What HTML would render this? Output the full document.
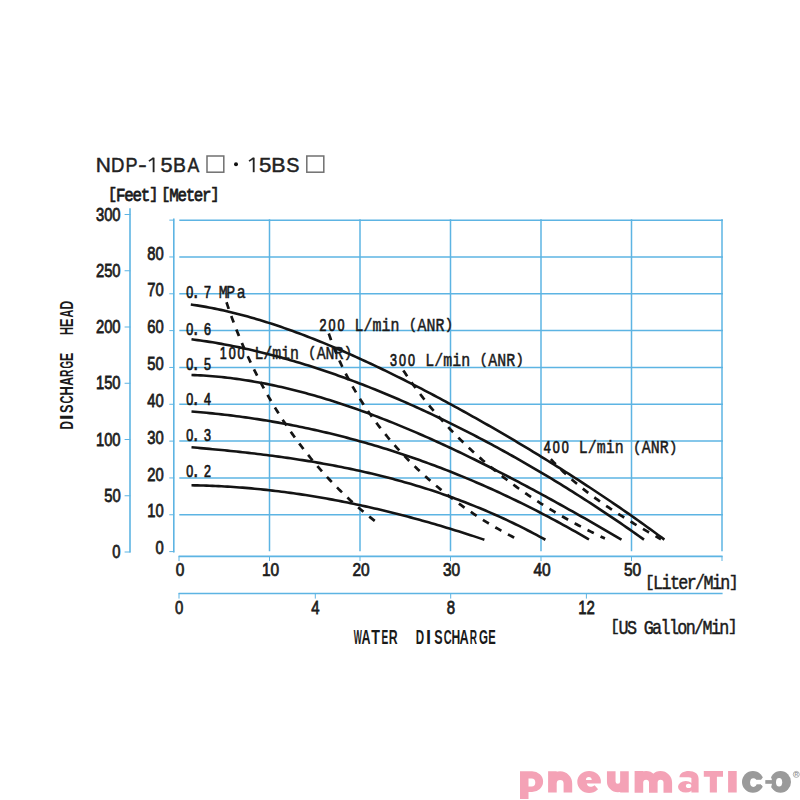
<!DOCTYPE html>
<html><head><meta charset="utf-8"><title>NDP-15BA chart</title>
<style>
html,body{margin:0;padding:0;background:#fff;}
svg{display:block;}
.g{stroke:#5db4e3;stroke-width:1.5;fill:none;}
.a{stroke:#5db4e3;stroke-width:1.6;fill:none;}
.tk{stroke:#5db4e3;stroke-width:1.0;fill:none;}
.c{stroke:#141414;stroke-width:2.6;fill:none;stroke-linejoin:round;}
.d{stroke:#141414;stroke-width:2.7;fill:none;stroke-dasharray:7 7.5;}
.s{font-family:"Liberation Sans",sans-serif;fill:#1c1c1c;font-weight:bold;}
.sm{font-family:"Liberation Sans",sans-serif;fill:#1c1c1c;stroke:#1c1c1c;stroke-width:0.75;}
.m{font-family:"Liberation Mono",monospace;fill:#1a1a1a;}
.mb{font-family:"Liberation Mono",monospace;fill:#1a1a1a;font-weight:bold;}
.mm{font-family:"Liberation Mono",monospace;fill:#1a1a1a;stroke:#1a1a1a;stroke-width:0.5;}
.mf{font-family:"Liberation Mono",monospace;fill:#1a1a1a;stroke:#1a1a1a;stroke-width:0.75;}
.dg{font-family:"Liberation Sans",sans-serif;fill:#161616;stroke:#161616;stroke-width:0.75;}
.t{font-family:"Liberation Sans",sans-serif;fill:#1a1a1a;font-weight:bold;}
.ti{font-family:"Liberation Sans",sans-serif;fill:#222;stroke:#222;stroke-width:0.45;}
.bx{fill:none;stroke:#707070;stroke-width:1.5;}
</style></head>
<body>
<svg width="800" height="800" viewBox="0 0 800 800">
<line x1="179.3" y1="514.77" x2="722.90" y2="514.77" class="g"/>
<line x1="179.3" y1="477.94" x2="722.90" y2="477.94" class="g"/>
<line x1="179.3" y1="441.11" x2="722.90" y2="441.11" class="g"/>
<line x1="179.3" y1="404.28" x2="722.90" y2="404.28" class="g"/>
<line x1="179.3" y1="367.45" x2="722.90" y2="367.45" class="g"/>
<line x1="179.3" y1="330.62" x2="722.90" y2="330.62" class="g"/>
<line x1="179.3" y1="293.79" x2="722.90" y2="293.79" class="g"/>
<line x1="179.3" y1="256.96" x2="722.90" y2="256.96" class="g"/>
<line x1="179.3" y1="220.13" x2="722.90" y2="220.13" class="g"/>
<line x1="269.50" y1="219.23" x2="269.50" y2="551.30" class="g"/>
<line x1="360.00" y1="219.23" x2="360.00" y2="551.30" class="g"/>
<line x1="450.50" y1="219.23" x2="450.50" y2="551.30" class="g"/>
<line x1="541.00" y1="219.23" x2="541.00" y2="551.30" class="g"/>
<line x1="631.50" y1="219.23" x2="631.50" y2="551.30" class="g"/>
<line x1="722.00" y1="219.23" x2="722.00" y2="551.30" class="g"/>
<line x1="130" y1="208.3" x2="130" y2="552.6" class="a"/>
<line x1="124.6" y1="552.00" x2="130.4" y2="552.00" class="tk"/>
<line x1="124.6" y1="495.75" x2="130.4" y2="495.75" class="tk"/>
<line x1="124.6" y1="439.50" x2="130.4" y2="439.50" class="tk"/>
<line x1="124.6" y1="383.25" x2="130.4" y2="383.25" class="tk"/>
<line x1="124.6" y1="327.00" x2="130.4" y2="327.00" class="tk"/>
<line x1="124.6" y1="270.75" x2="130.4" y2="270.75" class="tk"/>
<line x1="124.6" y1="214.50" x2="130.4" y2="214.50" class="tk"/>
<line x1="173.8" y1="218.6" x2="173.8" y2="552.4" class="a"/>
<line x1="169.3" y1="551.60" x2="174.2" y2="551.60" class="tk"/>
<line x1="169.3" y1="514.77" x2="174.2" y2="514.77" class="tk"/>
<line x1="169.3" y1="477.94" x2="174.2" y2="477.94" class="tk"/>
<line x1="169.3" y1="441.11" x2="174.2" y2="441.11" class="tk"/>
<line x1="169.3" y1="404.28" x2="174.2" y2="404.28" class="tk"/>
<line x1="169.3" y1="367.45" x2="174.2" y2="367.45" class="tk"/>
<line x1="169.3" y1="330.62" x2="174.2" y2="330.62" class="tk"/>
<line x1="169.3" y1="293.79" x2="174.2" y2="293.79" class="tk"/>
<line x1="169.3" y1="256.96" x2="174.2" y2="256.96" class="tk"/>
<line x1="169.3" y1="220.13" x2="174.2" y2="220.13" class="tk"/>
<line x1="178.6" y1="556.4" x2="722.6" y2="556.4" class="a"/>
<line x1="179.00" y1="556" x2="179.00" y2="561.0" class="tk"/>
<line x1="269.50" y1="556" x2="269.50" y2="561.0" class="tk"/>
<line x1="360.00" y1="556" x2="360.00" y2="561.0" class="tk"/>
<line x1="450.50" y1="556" x2="450.50" y2="561.0" class="tk"/>
<line x1="541.00" y1="556" x2="541.00" y2="561.0" class="tk"/>
<line x1="631.50" y1="556" x2="631.50" y2="561.0" class="tk"/>
<line x1="722.00" y1="556" x2="722.00" y2="561.0" class="tk"/>
<line x1="178.6" y1="593.5" x2="722.6" y2="593.5" class="a"/>
<line x1="179.00" y1="593" x2="179.00" y2="598.6" class="tk"/>
<line x1="315.30" y1="593" x2="315.30" y2="598.6" class="tk"/>
<line x1="450.70" y1="593" x2="450.70" y2="598.6" class="tk"/>
<line x1="586.40" y1="593" x2="586.40" y2="598.6" class="tk"/>
<path d="M190.80 304.49L193.80 304.92L196.80 305.38L199.80 305.86L202.80 306.36L205.80 306.89L208.80 307.44L211.80 308.02L214.80 308.61L217.80 309.23L220.80 309.87L223.80 310.53L226.80 311.22L229.80 311.92L232.80 312.65L235.80 313.40L238.80 314.16L241.80 314.95L244.80 315.75L247.80 316.58L250.80 317.42L253.80 318.29L256.80 319.17L259.80 320.07L262.80 320.98L265.80 321.92L268.80 322.87L271.80 323.84L274.80 324.82L277.80 325.82L280.80 326.84L283.80 327.88L286.80 328.92L289.80 329.99L292.80 331.07L295.80 332.16L298.80 333.27L301.80 334.40L304.80 335.54L307.80 336.69L310.80 337.85L313.80 339.03L316.80 340.23L319.80 341.43L322.80 342.65L325.80 343.88L328.80 345.13L331.80 346.38L334.80 347.65L337.80 348.93L340.80 350.23L343.80 351.53L346.80 352.85L349.80 354.17L352.80 355.51L355.80 356.86L358.80 358.22L361.80 359.59L364.80 360.97L367.80 362.36L370.80 363.76L373.80 365.17L376.80 366.59L379.80 368.02L382.80 369.46L385.80 370.90L388.80 372.36L391.80 373.83L394.80 375.30L397.80 376.79L400.80 378.28L403.80 379.78L406.80 381.29L409.80 382.81L412.80 384.34L415.80 385.88L418.80 387.42L421.80 388.97L424.80 390.53L427.80 392.10L430.80 393.67L433.80 395.26L436.80 396.85L439.80 398.45L442.80 400.05L445.80 401.66L448.80 403.29L451.80 404.91L454.80 406.55L457.80 408.19L460.80 409.84L463.80 411.50L466.80 413.16L469.80 414.83L472.80 416.51L475.80 418.19L478.80 419.89L481.80 421.58L484.80 423.29L487.80 425.00L490.80 426.72L493.80 428.45L496.80 430.18L499.80 431.92L502.80 433.67L505.80 435.42L508.80 437.19L511.80 438.95L514.80 440.73L517.80 442.51L520.80 444.30L523.80 446.10L526.80 447.90L529.80 449.71L532.80 451.53L535.80 453.35L538.80 455.19L541.80 457.03L544.80 458.87L547.80 460.73L550.80 462.59L553.80 464.46L556.80 466.34L559.80 468.22L562.80 470.11L565.80 472.01L568.80 473.92L571.80 475.84L574.80 477.76L577.80 479.70L580.80 481.64L583.80 483.59L586.80 485.55L589.80 487.51L592.80 489.49L595.80 491.47L598.80 493.47L601.80 495.47L604.80 497.48L607.80 499.50L610.80 501.53L613.80 503.57L616.80 505.62L619.80 507.68L622.80 509.75L625.80 511.84L628.80 513.93L631.80 516.03L634.80 518.14L637.80 520.26L640.80 522.40L643.80 524.54L646.80 526.70L649.80 528.87L652.80 531.05L655.80 533.24L658.80 535.45L661.80 537.66L664.40 539.59" class="c"/>
<path d="M191.50 339.30L194.50 339.68L197.50 340.09L200.50 340.50L203.50 340.94L206.50 341.39L209.50 341.86L212.50 342.34L215.50 342.84L218.50 343.36L221.50 343.89L224.50 344.43L227.50 344.99L230.50 345.57L233.50 346.16L236.50 346.77L239.50 347.39L242.50 348.03L245.50 348.68L248.50 349.35L251.50 350.03L254.50 350.72L257.50 351.43L260.50 352.15L263.50 352.89L266.50 353.64L269.50 354.41L272.50 355.19L275.50 355.98L278.50 356.79L281.50 357.61L284.50 358.44L287.50 359.29L290.50 360.15L293.50 361.02L296.50 361.91L299.50 362.81L302.50 363.72L305.50 364.65L308.50 365.58L311.50 366.54L314.50 367.50L317.50 368.47L320.50 369.46L323.50 370.46L326.50 371.48L329.50 372.50L332.50 373.54L335.50 374.59L338.50 375.65L341.50 376.72L344.50 377.81L347.50 378.91L350.50 380.02L353.50 381.14L356.50 382.27L359.50 383.41L362.50 384.57L365.50 385.73L368.50 386.91L371.50 388.10L374.50 389.30L377.50 390.51L380.50 391.74L383.50 392.97L386.50 394.22L389.50 395.47L392.50 396.74L395.50 398.02L398.50 399.31L401.50 400.61L404.50 401.92L407.50 403.24L410.50 404.57L413.50 405.91L416.50 407.26L419.50 408.63L422.50 410.00L425.50 411.39L428.50 412.78L431.50 414.19L434.50 415.60L437.50 417.03L440.50 418.47L443.50 419.91L446.50 421.37L449.50 422.84L452.50 424.32L455.50 425.81L458.50 427.30L461.50 428.81L464.50 430.33L467.50 431.86L470.50 433.40L473.50 434.95L476.50 436.51L479.50 438.07L482.50 439.65L485.50 441.24L488.50 442.84L491.50 444.45L494.50 446.07L497.50 447.70L500.50 449.34L503.50 450.99L506.50 452.65L509.50 454.32L512.50 455.99L515.50 457.68L518.50 459.38L521.50 461.09L524.50 462.81L527.50 464.54L530.50 466.28L533.50 468.03L536.50 469.79L539.50 471.56L542.50 473.34L545.50 475.13L548.50 476.92L551.50 478.73L554.50 480.55L557.50 482.38L560.50 484.22L563.50 486.07L566.50 487.93L569.50 489.80L572.50 491.68L575.50 493.57L578.50 495.48L581.50 497.39L584.50 499.31L587.50 501.24L590.50 503.18L593.50 505.14L596.50 507.10L599.50 509.07L602.50 511.06L605.50 513.05L608.50 515.06L611.50 517.07L614.50 519.10L617.50 521.14L620.50 523.19L623.50 525.24L626.50 527.31L629.50 529.39L632.50 531.49L635.50 533.59L638.50 535.70L641.50 537.83L644.00 539.61" class="c"/>
<path d="M191.50 375.00L194.50 375.10L197.50 375.24L200.50 375.39L203.50 375.56L206.50 375.76L209.50 375.98L212.50 376.22L215.50 376.48L218.50 376.75L221.50 377.06L224.50 377.38L227.50 377.72L230.50 378.08L233.50 378.46L236.50 378.86L239.50 379.28L242.50 379.72L245.50 380.17L248.50 380.65L251.50 381.15L254.50 381.66L257.50 382.19L260.50 382.74L263.50 383.31L266.50 383.90L269.50 384.51L272.50 385.13L275.50 385.77L278.50 386.42L281.50 387.10L284.50 387.79L287.50 388.50L290.50 389.22L293.50 389.96L296.50 390.72L299.50 391.49L302.50 392.28L305.50 393.09L308.50 393.91L311.50 394.75L314.50 395.60L317.50 396.47L320.50 397.35L323.50 398.24L326.50 399.16L329.50 400.08L332.50 401.02L335.50 401.98L338.50 402.95L341.50 403.93L344.50 404.93L347.50 405.94L350.50 406.97L353.50 408.01L356.50 409.06L359.50 410.12L362.50 411.20L365.50 412.29L368.50 413.39L371.50 414.51L374.50 415.64L377.50 416.78L380.50 417.93L383.50 419.10L386.50 420.28L389.50 421.46L392.50 422.66L395.50 423.88L398.50 425.10L401.50 426.34L404.50 427.58L407.50 428.84L410.50 430.11L413.50 431.38L416.50 432.67L419.50 433.97L422.50 435.28L425.50 436.60L428.50 437.93L431.50 439.28L434.50 440.63L437.50 441.99L440.50 443.36L443.50 444.73L446.50 446.12L449.50 447.52L452.50 448.93L455.50 450.34L458.50 451.77L461.50 453.20L464.50 454.65L467.50 456.10L470.50 457.56L473.50 459.02L476.50 460.50L479.50 461.98L482.50 463.48L485.50 464.98L488.50 466.48L491.50 468.00L494.50 469.52L497.50 471.05L500.50 472.59L503.50 474.14L506.50 475.69L509.50 477.25L512.50 478.82L515.50 480.39L518.50 481.97L521.50 483.56L524.50 485.15L527.50 486.75L530.50 488.35L533.50 489.97L536.50 491.58L539.50 493.21L542.50 494.84L545.50 496.48L548.50 498.12L551.50 499.76L554.50 501.42L557.50 503.08L560.50 504.74L563.50 506.41L566.50 508.08L569.50 509.76L572.50 511.45L575.50 513.14L578.50 514.83L581.50 516.53L584.50 518.24L587.50 519.94L590.50 521.66L593.50 523.38L596.50 525.10L599.50 526.82L602.50 528.55L605.50 530.29L608.50 532.03L611.50 533.77L614.50 535.52L617.50 537.27L620.50 539.02L621.50 539.61" class="c"/>
<path d="M191.50 411.50L194.50 411.74L197.50 411.99L200.50 412.25L203.50 412.52L206.50 412.80L209.50 413.09L212.50 413.39L215.50 413.70L218.50 414.02L221.50 414.36L224.50 414.70L227.50 415.05L230.50 415.41L233.50 415.79L236.50 416.17L239.50 416.56L242.50 416.97L245.50 417.38L248.50 417.81L251.50 418.25L254.50 418.69L257.50 419.15L260.50 419.62L263.50 420.10L266.50 420.59L269.50 421.09L272.50 421.60L275.50 422.12L278.50 422.65L281.50 423.19L284.50 423.74L287.50 424.31L290.50 424.88L293.50 425.47L296.50 426.07L299.50 426.67L302.50 427.29L305.50 427.92L308.50 428.56L311.50 429.21L314.50 429.87L317.50 430.55L320.50 431.23L323.50 431.92L326.50 432.63L329.50 433.35L332.50 434.08L335.50 434.82L338.50 435.57L341.50 436.33L344.50 437.10L347.50 437.88L350.50 438.68L353.50 439.48L356.50 440.30L359.50 441.13L362.50 441.97L365.50 442.82L368.50 443.68L371.50 444.56L374.50 445.44L377.50 446.34L380.50 447.25L383.50 448.17L386.50 449.10L389.50 450.04L392.50 451.00L395.50 451.96L398.50 452.94L401.50 453.93L404.50 454.93L407.50 455.94L410.50 456.96L413.50 458.00L416.50 459.04L419.50 460.10L422.50 461.17L425.50 462.25L428.50 463.35L431.50 464.45L434.50 465.57L437.50 466.70L440.50 467.84L443.50 468.99L446.50 470.15L449.50 471.33L452.50 472.52L455.50 473.72L458.50 474.93L461.50 476.15L464.50 477.39L467.50 478.64L470.50 479.90L473.50 481.17L476.50 482.45L479.50 483.75L482.50 485.06L485.50 486.38L488.50 487.71L491.50 489.05L494.50 490.41L497.50 491.78L500.50 493.16L503.50 494.56L506.50 495.96L509.50 497.38L512.50 498.81L515.50 500.25L518.50 501.71L521.50 503.17L524.50 504.65L527.50 506.15L530.50 507.65L533.50 509.17L536.50 510.70L539.50 512.24L542.50 513.79L545.50 515.36L548.50 516.94L551.50 518.53L554.50 520.14L557.50 521.75L560.50 523.38L563.50 525.03L566.50 526.68L569.50 528.35L572.50 530.03L575.50 531.72L578.50 533.43L581.50 535.15L584.50 536.88L587.50 538.63L589.00 539.50" class="c"/>
<path d="M191.50 447.30L194.50 447.55L197.50 447.82L200.50 448.08L203.50 448.35L206.50 448.62L209.50 448.89L212.50 449.17L215.50 449.46L218.50 449.75L221.50 450.04L224.50 450.33L227.50 450.64L230.50 450.94L233.50 451.25L236.50 451.57L239.50 451.89L242.50 452.22L245.50 452.55L248.50 452.89L251.50 453.23L254.50 453.58L257.50 453.94L260.50 454.30L263.50 454.67L266.50 455.05L269.50 455.43L272.50 455.82L275.50 456.22L278.50 456.62L281.50 457.04L284.50 457.45L287.50 457.88L290.50 458.32L293.50 458.76L296.50 459.21L299.50 459.67L302.50 460.14L305.50 460.61L308.50 461.10L311.50 461.59L314.50 462.09L317.50 462.61L320.50 463.13L323.50 463.66L326.50 464.20L329.50 464.75L332.50 465.31L335.50 465.88L338.50 466.46L341.50 467.05L344.50 467.65L347.50 468.27L350.50 468.89L353.50 469.52L356.50 470.17L359.50 470.83L362.50 471.49L365.50 472.17L368.50 472.86L371.50 473.57L374.50 474.28L377.50 475.01L380.50 475.75L383.50 476.50L386.50 477.27L389.50 478.04L392.50 478.83L395.50 479.64L398.50 480.46L401.50 481.29L404.50 482.13L407.50 482.99L410.50 483.86L413.50 484.74L416.50 485.64L419.50 486.56L422.50 487.48L425.50 488.43L428.50 489.38L431.50 490.36L434.50 491.34L437.50 492.35L440.50 493.36L443.50 494.40L446.50 495.45L449.50 496.51L452.50 497.59L455.50 498.69L458.50 499.80L461.50 500.93L464.50 502.08L467.50 503.24L470.50 504.42L473.50 505.61L476.50 506.83L479.50 508.06L482.50 509.31L485.50 510.57L488.50 511.85L491.50 513.16L494.50 514.48L497.50 515.81L500.50 517.17L503.50 518.54L506.50 519.94L509.50 521.35L512.50 522.78L515.50 524.23L518.50 525.70L521.50 527.18L524.50 528.69L527.50 530.22L530.50 531.77L533.50 533.33L536.50 534.92L539.50 536.53L542.50 538.15L545.40 539.75" class="c"/>
<path d="M191.50 485.30L194.50 485.34L197.50 485.40L200.50 485.47L203.50 485.55L206.50 485.64L209.50 485.75L212.50 485.86L215.50 485.99L218.50 486.13L221.50 486.28L224.50 486.45L227.50 486.62L230.50 486.81L233.50 487.00L236.50 487.21L239.50 487.43L242.50 487.66L245.50 487.91L248.50 488.16L251.50 488.42L254.50 488.70L257.50 488.99L260.50 489.29L263.50 489.59L266.50 489.91L269.50 490.25L272.50 490.59L275.50 490.94L278.50 491.30L281.50 491.68L284.50 492.06L287.50 492.46L290.50 492.87L293.50 493.28L296.50 493.71L299.50 494.15L302.50 494.60L305.50 495.06L308.50 495.53L311.50 496.01L314.50 496.50L317.50 497.00L320.50 497.51L323.50 498.03L326.50 498.56L329.50 499.10L332.50 499.65L335.50 500.21L338.50 500.79L341.50 501.37L344.50 501.96L347.50 502.56L350.50 503.17L353.50 503.79L356.50 504.42L359.50 505.06L362.50 505.71L365.50 506.37L368.50 507.04L371.50 507.72L374.50 508.40L377.50 509.10L380.50 509.81L383.50 510.52L386.50 511.25L389.50 511.98L392.50 512.72L395.50 513.48L398.50 514.24L401.50 515.01L404.50 515.79L407.50 516.58L410.50 517.38L413.50 518.18L416.50 519.00L419.50 519.82L422.50 520.66L425.50 521.50L428.50 522.35L431.50 523.21L434.50 524.08L437.50 524.96L440.50 525.84L443.50 526.74L446.50 527.64L449.50 528.55L452.50 529.47L455.50 530.40L458.50 531.33L461.50 532.27L464.50 533.23L467.50 534.19L470.50 535.16L473.50 536.13L476.50 537.12L479.50 538.11L482.50 539.11L484.40 539.75" class="c"/>
<path d="M226.49 302.29L227.13 304.18L227.77 306.07L228.41 307.95L229.07 309.84L229.73 311.72L230.40 313.60L231.07 315.47L231.75 317.35L232.44 319.22L233.14 321.09L233.84 322.96L234.55 324.83L235.27 326.69L235.99 328.55L236.72 330.41L237.46 332.27L238.21 334.12L238.96 335.97L239.72 337.82L240.49 339.67L241.26 341.51L242.04 343.35L242.83 345.19L243.62 347.03L244.43 348.86L245.24 350.69L246.05 352.52L246.88 354.34L247.71 356.16L248.54 357.98L249.39 359.79L250.24 361.60L251.10 363.41L251.96 365.21L252.84 367.02L253.72 368.81L254.60 370.61L255.50 372.40L256.40 374.18L257.31 375.97L258.22 377.75L259.15 379.52L260.08 381.30L261.01 383.07L261.96 384.83L262.91 386.59L263.87 388.35L264.83 390.10L265.81 391.85L266.79 393.59L267.77 395.34L268.77 397.07L269.77 398.80L270.78 400.53L271.79 402.26L272.81 403.98L273.84 405.69L274.88 407.40L275.92 409.11L276.98 410.81L278.03 412.51L279.10 414.20L280.17 415.89L281.25 417.57L282.34 419.25L283.43 420.92L284.53 422.59L285.64 424.26L286.76 425.92L287.88 427.57L289.01 429.22L290.15 430.86L291.29 432.50L292.44 434.13L293.60 435.76L294.77 437.39L295.94 439.00L297.12 440.62L298.31 442.22L299.50 443.82L300.70 445.42L301.91 447.01L303.13 448.59L304.35 450.17L305.58 451.75L306.82 453.31L308.06 454.88L309.31 456.43L310.57 457.98L311.84 459.53L313.11 461.06L314.39 462.60L315.68 464.12L316.98 465.64L318.28 467.16L319.59 468.66L320.90 470.16L322.23 471.66L323.56 473.15L324.90 474.63L326.24 476.11L327.60 477.57L328.96 479.04L330.32 480.49L331.70 481.94L333.08 483.39L334.47 484.82L335.86 486.25L337.27 487.67L338.68 489.09L340.10 490.50L341.52 491.90L342.95 493.29L344.39 494.68L345.84 496.06L347.29 497.44L348.75 498.80L350.22 500.16L351.70 501.51L353.18 502.86L354.67 504.19L356.17 505.52L357.67 506.84L359.19 508.16L360.71 509.46L362.23 510.76L363.77 512.06L365.31 513.34L366.86 514.62L368.41 515.88L369.97 517.14L371.54 518.40L373.12 519.64L374.71 520.88L376.30 522.11L376.45 522.22" class="d"/>
<path d="M328.76 333.53L329.41 335.42L330.07 337.30L330.75 339.19L331.44 341.06L332.13 342.93L332.85 344.80L333.57 346.66L334.31 348.52L335.05 350.36L335.81 352.21L336.58 354.05L337.37 355.88L338.16 357.71L338.97 359.53L339.79 361.35L340.62 363.16L341.46 364.97L342.31 366.77L343.18 368.56L344.05 370.35L344.94 372.14L345.84 373.91L346.75 375.69L347.67 377.45L348.60 379.21L349.54 380.97L350.49 382.72L351.46 384.46L352.43 386.20L353.41 387.93L354.41 389.65L355.42 391.37L356.43 393.09L357.46 394.79L358.50 396.49L359.54 398.19L360.60 399.88L361.67 401.56L362.75 403.24L363.83 404.91L364.93 406.57L366.04 408.23L367.16 409.88L368.28 411.53L369.42 413.17L370.57 414.80L371.72 416.43L372.89 418.05L374.06 419.66L375.24 421.27L376.44 422.87L377.64 424.47L378.85 426.06L380.07 427.64L381.30 429.21L382.54 430.78L383.79 432.34L385.04 433.90L386.31 435.45L387.58 436.99L388.86 438.52L390.15 440.05L391.45 441.57L392.76 443.09L394.07 444.59L395.40 446.10L396.73 447.59L398.07 449.08L399.42 450.56L400.77 452.03L402.14 453.50L403.51 454.96L404.89 456.41L406.28 457.85L407.67 459.29L409.07 460.72L410.48 462.15L411.90 463.56L413.33 464.97L414.76 466.38L416.20 467.77L417.65 469.16L419.10 470.54L420.56 471.91L422.03 473.28L423.50 474.64L424.99 475.99L426.48 477.33L427.97 478.67L429.47 480.00L430.98 481.32L432.50 482.63L434.02 483.94L435.55 485.24L437.08 486.53L438.62 487.81L440.17 489.09L441.72 490.35L443.28 491.61L444.85 492.87L446.42 494.11L447.99 495.35L449.58 496.58L451.17 497.80L452.76 499.01L454.36 500.22L455.97 501.41L457.58 502.60L459.19 503.79L460.81 504.96L462.44 506.12L464.07 507.28L465.71 508.43L467.35 509.57L469.00 510.71L470.65 511.83L472.31 512.95L473.97 514.06L475.64 515.16L477.31 516.25L478.99 517.33L480.67 518.41L482.35 519.47L484.04 520.53L485.74 521.58L487.43 522.62L489.14 523.66L490.84 524.68L492.55 525.70L494.27 526.71L495.99 527.71L497.71 528.70L499.44 529.68L501.17 530.65L502.90 531.62L504.64 532.57L506.38 533.52L508.12 534.46L509.87 535.39L511.62 536.31L513.38 537.22L515.14 538.13L515.67 538.40" class="d"/>
<path d="M403.29 370.44L404.41 372.12L405.54 373.80L406.68 375.48L407.82 377.14L408.97 378.80L410.13 380.45L411.30 382.10L412.47 383.74L413.66 385.37L414.84 387.00L416.04 388.62L417.24 390.24L418.45 391.84L419.67 393.45L420.89 395.04L422.12 396.63L423.36 398.21L424.60 399.79L425.85 401.36L427.11 402.92L428.37 404.47L429.65 406.02L430.92 407.57L432.21 409.10L433.50 410.63L434.80 412.16L436.10 413.68L437.41 415.19L438.73 416.69L440.05 418.19L441.38 419.68L442.72 421.17L444.06 422.65L445.41 424.12L446.77 425.59L448.13 427.05L449.50 428.50L450.87 429.95L452.25 431.39L453.64 432.82L455.03 434.25L456.43 435.67L457.84 437.09L459.25 438.50L460.67 439.90L462.09 441.30L463.52 442.69L464.96 444.07L466.40 445.45L467.84 446.82L469.30 448.18L470.76 449.54L472.22 450.89L473.69 452.24L475.17 453.58L476.65 454.91L478.14 456.23L479.63 457.55L481.13 458.87L482.63 460.18L484.14 461.48L485.65 462.77L487.17 464.06L488.70 465.34L490.23 466.62L491.77 467.89L493.31 469.15L494.86 470.41L496.41 471.66L497.97 472.90L499.53 474.14L501.10 475.37L502.67 476.59L504.25 477.81L505.83 479.02L507.42 480.23L509.01 481.43L510.61 482.62L512.22 483.81L513.82 484.99L515.44 486.17L517.05 487.33L518.68 488.50L520.31 489.65L521.94 490.80L523.57 491.94L525.22 493.08L526.86 494.21L528.51 495.34L530.17 496.45L531.83 497.57L533.49 498.67L535.16 499.77L536.84 500.86L538.51 501.95L540.20 503.03L541.88 504.10L543.58 505.17L545.27 506.23L546.97 507.29L548.67 508.34L550.38 509.38L552.10 510.42L553.81 511.45L555.53 512.47L557.26 513.49L558.99 514.50L560.72 515.51L562.46 516.51L564.20 517.50L565.94 518.49L567.69 519.47L569.44 520.44L571.20 521.41L572.96 522.37L574.73 523.33L576.49 524.28L578.26 525.22L580.04 526.16L581.82 527.09L583.60 528.01L585.39 528.93L587.18 529.85L588.97 530.75L590.77 531.65L592.57 532.55L594.37 533.43L596.18 534.31L597.99 535.19L599.80 536.06L601.62 536.92L603.44 537.78L604.90 538.46" class="d"/>
<path d="M550.85 459.15L552.21 460.62L553.59 462.07L554.97 463.51L556.36 464.94L557.77 466.36L559.18 467.77L560.61 469.17L562.04 470.55L563.49 471.93L564.95 473.29L566.41 474.65L567.89 475.99L569.37 477.32L570.86 478.65L572.36 479.96L573.88 481.26L575.39 482.55L576.92 483.84L578.46 485.11L580.00 486.38L581.56 487.63L583.11 488.88L584.68 490.11L586.26 491.34L587.84 492.56L589.43 493.77L591.02 494.98L592.63 496.17L594.24 497.36L595.85 498.54L597.47 499.71L599.10 500.87L600.73 502.03L602.37 503.18L604.02 504.32L605.67 505.45L607.32 506.58L608.98 507.70L610.64 508.81L612.31 509.92L613.99 511.02L615.66 512.12L617.35 513.20L619.03 514.29L620.72 515.36L622.41 516.44L624.11 517.50L625.81 518.56L627.51 519.62L629.22 520.67L630.92 521.71L632.63 522.75L634.35 523.79L636.06 524.82L637.78 525.85L639.50 526.87L641.22 527.89L642.94 528.91L644.66 529.92L646.39 530.92L648.11 531.93L649.84 532.93L651.56 533.93L653.29 534.92L655.01 535.91L656.74 536.90L658.47 537.89L660.19 538.87L660.92 539.28" class="d"/>
<text x="0" y="0" transform="translate(120.60 558.00) scale(0.840 1)" text-anchor="end" class="sm" font-size="17.6">0</text>
<text x="0" y="0" transform="translate(120.60 501.75) scale(0.840 1)" text-anchor="end" class="sm" font-size="17.6">50</text>
<text x="0" y="0" transform="translate(120.60 445.50) scale(0.840 1)" text-anchor="end" class="sm" font-size="17.6">100</text>
<text x="0" y="0" transform="translate(120.60 389.25) scale(0.840 1)" text-anchor="end" class="sm" font-size="17.6">150</text>
<text x="0" y="0" transform="translate(120.60 333.00) scale(0.840 1)" text-anchor="end" class="sm" font-size="17.6">200</text>
<text x="0" y="0" transform="translate(120.60 276.75) scale(0.840 1)" text-anchor="end" class="sm" font-size="17.6">250</text>
<text x="0" y="0" transform="translate(120.60 220.50) scale(0.840 1)" text-anchor="end" class="sm" font-size="17.6">300</text>
<text x="0" y="0" transform="translate(163.80 554.20) scale(0.840 1)" text-anchor="end" class="sm" font-size="17.6">0</text>
<text x="0" y="0" transform="translate(163.80 517.37) scale(0.840 1)" text-anchor="end" class="sm" font-size="17.6">10</text>
<text x="0" y="0" transform="translate(163.80 480.54) scale(0.840 1)" text-anchor="end" class="sm" font-size="17.6">20</text>
<text x="0" y="0" transform="translate(163.80 443.71) scale(0.840 1)" text-anchor="end" class="sm" font-size="17.6">30</text>
<text x="0" y="0" transform="translate(163.80 406.88) scale(0.840 1)" text-anchor="end" class="sm" font-size="17.6">40</text>
<text x="0" y="0" transform="translate(163.80 370.05) scale(0.840 1)" text-anchor="end" class="sm" font-size="17.6">50</text>
<text x="0" y="0" transform="translate(163.80 333.22) scale(0.840 1)" text-anchor="end" class="sm" font-size="17.6">60</text>
<text x="0" y="0" transform="translate(163.80 296.39) scale(0.840 1)" text-anchor="end" class="sm" font-size="17.6">70</text>
<text x="0" y="0" transform="translate(163.80 259.56) scale(0.840 1)" text-anchor="end" class="sm" font-size="17.6">80</text>
<text x="0" y="0" transform="translate(180.00 575.80) scale(0.880 1)" text-anchor="middle" class="sm" font-size="17.6">0</text>
<text x="0" y="0" transform="translate(270.50 575.80) scale(0.880 1)" text-anchor="middle" class="sm" font-size="17.6">10</text>
<text x="0" y="0" transform="translate(361.00 575.80) scale(0.880 1)" text-anchor="middle" class="sm" font-size="17.6">20</text>
<text x="0" y="0" transform="translate(451.50 575.80) scale(0.880 1)" text-anchor="middle" class="sm" font-size="17.6">30</text>
<text x="0" y="0" transform="translate(542.00 575.80) scale(0.880 1)" text-anchor="middle" class="sm" font-size="17.6">40</text>
<text x="0" y="0" transform="translate(632.50 575.80) scale(0.880 1)" text-anchor="middle" class="sm" font-size="17.6">50</text>
<text x="0" y="0" transform="translate(179.20 614.00) scale(0.780 1)" text-anchor="middle" class="sm" font-size="19.2">0</text>
<text x="0" y="0" transform="translate(315.50 614.00) scale(0.780 1)" text-anchor="middle" class="sm" font-size="19.2">4</text>
<text x="0" y="0" transform="translate(450.90 614.00) scale(0.780 1)" text-anchor="middle" class="sm" font-size="19.2">8</text>
<text x="0" y="0" transform="translate(586.60 614.00) scale(0.780 1)" text-anchor="middle" class="sm" font-size="19.2">12</text>
<text x="0" y="0" transform="translate(189.70 297.80) scale(0.72 1)" text-anchor="middle" class="dg" font-size="17.4">0</text><text x="0" y="0" transform="translate(195.80 297.80) scale(0.9 1)" text-anchor="middle" class="mm" font-size="17.5">.</text><text x="0" y="0" transform="translate(207.50 297.80) scale(0.72 1)" text-anchor="middle" class="dg" font-size="17.4">7</text>
<text x="0" y="0" transform="translate(189.70 334.80) scale(0.72 1)" text-anchor="middle" class="dg" font-size="17.4">0</text><text x="0" y="0" transform="translate(195.80 334.80) scale(0.9 1)" text-anchor="middle" class="mm" font-size="17.5">.</text><text x="0" y="0" transform="translate(207.50 334.80) scale(0.72 1)" text-anchor="middle" class="dg" font-size="17.4">6</text>
<text x="0" y="0" transform="translate(189.70 370.30) scale(0.72 1)" text-anchor="middle" class="dg" font-size="17.4">0</text><text x="0" y="0" transform="translate(195.80 370.30) scale(0.9 1)" text-anchor="middle" class="mm" font-size="17.5">.</text><text x="0" y="0" transform="translate(207.50 370.30) scale(0.72 1)" text-anchor="middle" class="dg" font-size="17.4">5</text>
<text x="0" y="0" transform="translate(189.70 405.00) scale(0.72 1)" text-anchor="middle" class="dg" font-size="17.4">0</text><text x="0" y="0" transform="translate(195.80 405.00) scale(0.9 1)" text-anchor="middle" class="mm" font-size="17.5">.</text><text x="0" y="0" transform="translate(207.50 405.00) scale(0.72 1)" text-anchor="middle" class="dg" font-size="17.4">4</text>
<text x="0" y="0" transform="translate(189.70 440.50) scale(0.72 1)" text-anchor="middle" class="dg" font-size="17.4">0</text><text x="0" y="0" transform="translate(195.80 440.50) scale(0.9 1)" text-anchor="middle" class="mm" font-size="17.5">.</text><text x="0" y="0" transform="translate(207.50 440.50) scale(0.72 1)" text-anchor="middle" class="dg" font-size="17.4">3</text>
<text x="0" y="0" transform="translate(189.70 477.00) scale(0.72 1)" text-anchor="middle" class="dg" font-size="17.4">0</text><text x="0" y="0" transform="translate(195.80 477.00) scale(0.9 1)" text-anchor="middle" class="mm" font-size="17.5">.</text><text x="0" y="0" transform="translate(207.50 477.00) scale(0.72 1)" text-anchor="middle" class="dg" font-size="17.4">2</text>
<text x="0" y="0" transform="translate(223.30 297.80) scale(0.80 1)" text-anchor="middle" class="mm" font-size="18.6">M</text><text x="0" y="0" transform="translate(230.60 297.80) scale(0.80 1)" text-anchor="middle" class="mm" font-size="18.6">P</text><text x="0" y="0" transform="translate(241.20 297.80) scale(0.80 1)" text-anchor="middle" class="mm" font-size="18.6">a</text>
<text x="0" y="0" transform="translate(223.25 358.70) scale(0.72 1)" text-anchor="middle" class="dg" font-size="17.4">1</text><text x="0" y="0" transform="translate(232.15 358.70) scale(0.72 1)" text-anchor="middle" class="dg" font-size="17.4">0</text><text x="0" y="0" transform="translate(241.05 358.70) scale(0.72 1)" text-anchor="middle" class="dg" font-size="17.4">0</text><text x="0" y="0" transform="translate(258.85 358.70) scale(0.80 1)" text-anchor="middle" class="mm" font-size="18.6">L</text><text x="0" y="0" transform="translate(267.75 358.70) scale(0.82 1)" text-anchor="middle" class="mm" font-size="18.2">/</text><text x="0" y="0" transform="translate(276.65 358.70) scale(0.80 1)" text-anchor="middle" class="mm" font-size="18.6">m</text><text x="0" y="0" transform="translate(285.55 358.70) scale(0.80 1)" text-anchor="middle" class="mm" font-size="18.6">i</text><text x="0" y="0" transform="translate(294.45 358.70) scale(0.80 1)" text-anchor="middle" class="mm" font-size="18.6">n</text><text x="0" y="0" transform="translate(312.25 357.30) scale(0.8 0.86)" text-anchor="middle" class="mm" font-size="17.5">(</text><text x="0" y="0" transform="translate(321.15 358.70) scale(0.80 1)" text-anchor="middle" class="mm" font-size="18.6">A</text><text x="0" y="0" transform="translate(330.05 358.70) scale(0.80 1)" text-anchor="middle" class="mm" font-size="18.6">N</text><text x="0" y="0" transform="translate(338.95 358.70) scale(0.80 1)" text-anchor="middle" class="mm" font-size="18.6">R</text><text x="0" y="0" transform="translate(347.85 357.30) scale(0.8 0.86)" text-anchor="middle" class="mm" font-size="17.5">)</text>
<text x="0" y="0" transform="translate(323.00 330.70) scale(0.72 1)" text-anchor="middle" class="dg" font-size="17.4">2</text><text x="0" y="0" transform="translate(332.00 330.70) scale(0.72 1)" text-anchor="middle" class="dg" font-size="17.4">0</text><text x="0" y="0" transform="translate(341.00 330.70) scale(0.72 1)" text-anchor="middle" class="dg" font-size="17.4">0</text><text x="0" y="0" transform="translate(359.00 330.70) scale(0.80 1)" text-anchor="middle" class="mm" font-size="18.6">L</text><text x="0" y="0" transform="translate(368.00 330.70) scale(0.82 1)" text-anchor="middle" class="mm" font-size="18.2">/</text><text x="0" y="0" transform="translate(377.00 330.70) scale(0.80 1)" text-anchor="middle" class="mm" font-size="18.6">m</text><text x="0" y="0" transform="translate(386.00 330.70) scale(0.80 1)" text-anchor="middle" class="mm" font-size="18.6">i</text><text x="0" y="0" transform="translate(395.00 330.70) scale(0.80 1)" text-anchor="middle" class="mm" font-size="18.6">n</text><text x="0" y="0" transform="translate(413.00 329.30) scale(0.8 0.86)" text-anchor="middle" class="mm" font-size="17.5">(</text><text x="0" y="0" transform="translate(422.00 330.70) scale(0.80 1)" text-anchor="middle" class="mm" font-size="18.6">A</text><text x="0" y="0" transform="translate(431.00 330.70) scale(0.80 1)" text-anchor="middle" class="mm" font-size="18.6">N</text><text x="0" y="0" transform="translate(440.00 330.70) scale(0.80 1)" text-anchor="middle" class="mm" font-size="18.6">R</text><text x="0" y="0" transform="translate(449.00 329.30) scale(0.8 0.86)" text-anchor="middle" class="mm" font-size="17.5">)</text>
<text x="0" y="0" transform="translate(393.60 365.60) scale(0.72 1)" text-anchor="middle" class="dg" font-size="17.4">3</text><text x="0" y="0" transform="translate(402.60 365.60) scale(0.72 1)" text-anchor="middle" class="dg" font-size="17.4">0</text><text x="0" y="0" transform="translate(411.60 365.60) scale(0.72 1)" text-anchor="middle" class="dg" font-size="17.4">0</text><text x="0" y="0" transform="translate(429.60 365.60) scale(0.80 1)" text-anchor="middle" class="mm" font-size="18.6">L</text><text x="0" y="0" transform="translate(438.60 365.60) scale(0.82 1)" text-anchor="middle" class="mm" font-size="18.2">/</text><text x="0" y="0" transform="translate(447.60 365.60) scale(0.80 1)" text-anchor="middle" class="mm" font-size="18.6">m</text><text x="0" y="0" transform="translate(456.60 365.60) scale(0.80 1)" text-anchor="middle" class="mm" font-size="18.6">i</text><text x="0" y="0" transform="translate(465.60 365.60) scale(0.80 1)" text-anchor="middle" class="mm" font-size="18.6">n</text><text x="0" y="0" transform="translate(483.60 364.20) scale(0.8 0.86)" text-anchor="middle" class="mm" font-size="17.5">(</text><text x="0" y="0" transform="translate(492.60 365.60) scale(0.80 1)" text-anchor="middle" class="mm" font-size="18.6">A</text><text x="0" y="0" transform="translate(501.60 365.60) scale(0.80 1)" text-anchor="middle" class="mm" font-size="18.6">N</text><text x="0" y="0" transform="translate(510.60 365.60) scale(0.80 1)" text-anchor="middle" class="mm" font-size="18.6">R</text><text x="0" y="0" transform="translate(519.60 364.20) scale(0.8 0.86)" text-anchor="middle" class="mm" font-size="17.5">)</text>
<text x="0" y="0" transform="translate(547.30 453.00) scale(0.72 1)" text-anchor="middle" class="dg" font-size="17.4">4</text><text x="0" y="0" transform="translate(556.30 453.00) scale(0.72 1)" text-anchor="middle" class="dg" font-size="17.4">0</text><text x="0" y="0" transform="translate(565.30 453.00) scale(0.72 1)" text-anchor="middle" class="dg" font-size="17.4">0</text><text x="0" y="0" transform="translate(583.30 453.00) scale(0.80 1)" text-anchor="middle" class="mm" font-size="18.6">L</text><text x="0" y="0" transform="translate(592.30 453.00) scale(0.82 1)" text-anchor="middle" class="mm" font-size="18.2">/</text><text x="0" y="0" transform="translate(601.30 453.00) scale(0.80 1)" text-anchor="middle" class="mm" font-size="18.6">m</text><text x="0" y="0" transform="translate(610.30 453.00) scale(0.80 1)" text-anchor="middle" class="mm" font-size="18.6">i</text><text x="0" y="0" transform="translate(619.30 453.00) scale(0.80 1)" text-anchor="middle" class="mm" font-size="18.6">n</text><text x="0" y="0" transform="translate(637.30 451.60) scale(0.8 0.86)" text-anchor="middle" class="mm" font-size="17.5">(</text><text x="0" y="0" transform="translate(646.30 453.00) scale(0.80 1)" text-anchor="middle" class="mm" font-size="18.6">A</text><text x="0" y="0" transform="translate(655.30 453.00) scale(0.80 1)" text-anchor="middle" class="mm" font-size="18.6">N</text><text x="0" y="0" transform="translate(664.30 453.00) scale(0.80 1)" text-anchor="middle" class="mm" font-size="18.6">R</text><text x="0" y="0" transform="translate(673.30 451.60) scale(0.8 0.86)" text-anchor="middle" class="mm" font-size="17.5">)</text>
<text x="0" y="0" transform="translate(649.70 586.50) scale(0.800 0.780)" text-anchor="middle" class="mm" font-size="20.9">[</text><text x="0" y="0" transform="translate(658.10 589.40) scale(0.800 1)" text-anchor="middle" class="mm" font-size="20.9">L</text><text x="0" y="0" transform="translate(666.50 589.40) scale(0.800 1)" text-anchor="middle" class="mm" font-size="20.9">i</text><text x="0" y="0" transform="translate(674.90 589.40) scale(0.800 1)" text-anchor="middle" class="mm" font-size="20.9">t</text><text x="0" y="0" transform="translate(683.30 589.40) scale(0.800 1)" text-anchor="middle" class="mm" font-size="20.9">e</text><text x="0" y="0" transform="translate(691.70 589.40) scale(0.800 1)" text-anchor="middle" class="mm" font-size="20.9">r</text><text x="0" y="0" transform="translate(700.10 589.40) scale(0.800 1)" text-anchor="middle" class="mm" font-size="20.9">/</text><text x="0" y="0" transform="translate(708.50 589.40) scale(0.800 1)" text-anchor="middle" class="mm" font-size="20.9">M</text><text x="0" y="0" transform="translate(716.90 589.40) scale(0.800 1)" text-anchor="middle" class="mm" font-size="20.9">i</text><text x="0" y="0" transform="translate(725.30 589.40) scale(0.800 1)" text-anchor="middle" class="mm" font-size="20.9">n</text><text x="0" y="0" transform="translate(733.70 586.50) scale(0.800 0.780)" text-anchor="middle" class="mm" font-size="20.9">]</text>
<text x="0" y="0" transform="translate(615.10 630.60) scale(0.800 0.780)" text-anchor="middle" class="mm" font-size="20.9">[</text><text x="0" y="0" transform="translate(623.50 633.50) scale(0.800 1)" text-anchor="middle" class="mm" font-size="20.9">U</text><text x="0" y="0" transform="translate(631.90 633.50) scale(0.800 1)" text-anchor="middle" class="mm" font-size="20.9">S</text><text x="0" y="0" transform="translate(648.70 633.50) scale(0.800 1)" text-anchor="middle" class="mm" font-size="20.9">G</text><text x="0" y="0" transform="translate(657.10 633.50) scale(0.800 1)" text-anchor="middle" class="mm" font-size="20.9">a</text><text x="0" y="0" transform="translate(665.50 633.50) scale(0.800 1)" text-anchor="middle" class="mm" font-size="20.9">l</text><text x="0" y="0" transform="translate(673.90 633.50) scale(0.800 1)" text-anchor="middle" class="mm" font-size="20.9">l</text><text x="0" y="0" transform="translate(682.30 633.50) scale(0.800 1)" text-anchor="middle" class="mm" font-size="20.9">o</text><text x="0" y="0" transform="translate(690.70 633.50) scale(0.800 1)" text-anchor="middle" class="mm" font-size="20.9">n</text><text x="0" y="0" transform="translate(699.10 633.50) scale(0.800 1)" text-anchor="middle" class="mm" font-size="20.9">/</text><text x="0" y="0" transform="translate(707.50 633.50) scale(0.800 1)" text-anchor="middle" class="mm" font-size="20.9">M</text><text x="0" y="0" transform="translate(715.90 633.50) scale(0.800 1)" text-anchor="middle" class="mm" font-size="20.9">i</text><text x="0" y="0" transform="translate(724.30 633.50) scale(0.800 1)" text-anchor="middle" class="mm" font-size="20.9">n</text><text x="0" y="0" transform="translate(732.70 630.60) scale(0.800 0.780)" text-anchor="middle" class="mm" font-size="20.9">]</text>
<text x="0" y="0" transform="translate(112.53 198.90) scale(0.860 0.900)" text-anchor="middle" class="mf" font-size="18.4">[</text><text x="0" y="0" transform="translate(120.78 200.70) scale(0.860 1)" text-anchor="middle" class="mf" font-size="18.4">F</text><text x="0" y="0" transform="translate(129.03 200.70) scale(0.860 1)" text-anchor="middle" class="mf" font-size="18.4">e</text><text x="0" y="0" transform="translate(137.28 200.70) scale(0.860 1)" text-anchor="middle" class="mf" font-size="18.4">e</text><text x="0" y="0" transform="translate(145.53 200.70) scale(0.860 1)" text-anchor="middle" class="mf" font-size="18.4">t</text><text x="0" y="0" transform="translate(153.78 198.90) scale(0.860 0.900)" text-anchor="middle" class="mf" font-size="18.4">]</text>
<text x="0" y="0" transform="translate(165.80 198.90) scale(0.860 0.900)" text-anchor="middle" class="mf" font-size="18.4">[</text><text x="0" y="0" transform="translate(174.00 200.70) scale(0.860 1)" text-anchor="middle" class="mf" font-size="18.4">M</text><text x="0" y="0" transform="translate(182.20 200.70) scale(0.860 1)" text-anchor="middle" class="mf" font-size="18.4">e</text><text x="0" y="0" transform="translate(190.40 200.70) scale(0.860 1)" text-anchor="middle" class="mf" font-size="18.4">t</text><text x="0" y="0" transform="translate(198.60 200.70) scale(0.860 1)" text-anchor="middle" class="mf" font-size="18.4">e</text><text x="0" y="0" transform="translate(206.80 200.70) scale(0.860 1)" text-anchor="middle" class="mf" font-size="18.4">r</text><text x="0" y="0" transform="translate(215.00 198.90) scale(0.860 0.900)" text-anchor="middle" class="mf" font-size="18.4">]</text>
<g transform="translate(0 644.0)"><text x="0" y="0" transform="translate(353.69 0) scale(0.439 1)" class="t" font-size="19.6">W</text><text x="0" y="0" transform="translate(361.59 0) scale(0.639 1)" class="t" font-size="19.6">A</text><text x="0" y="0" transform="translate(371.14 0) scale(0.728 1)" class="t" font-size="19.6">T</text><text x="0" y="0" transform="translate(381.42 0) scale(0.518 1)" class="t" font-size="19.6">E</text><text x="0" y="0" transform="translate(388.68 0) scale(0.628 1)" class="t" font-size="19.6">R</text></g>
<g transform="translate(0 644.0)"><text x="0" y="0" transform="translate(415.82 0) scale(0.591 1)" class="t" font-size="19.6">D</text><text x="0" y="0" transform="translate(426.09 0) scale(0.921 1)" class="t" font-size="19.6">I</text><text x="0" y="0" transform="translate(434.14 0) scale(0.639 1)" class="t" font-size="19.6">S</text><text x="0" y="0" transform="translate(443.65 0) scale(0.562 1)" class="t" font-size="19.6">C</text><text x="0" y="0" transform="translate(451.59 0) scale(0.616 1)" class="t" font-size="19.6">H</text><text x="0" y="0" transform="translate(459.58 0) scale(0.654 1)" class="t" font-size="19.6">A</text><text x="0" y="0" transform="translate(469.72 0) scale(0.515 1)" class="t" font-size="19.6">R</text><text x="0" y="0" transform="translate(478.93 0) scale(0.590 1)" class="t" font-size="19.6">G</text><text x="0" y="0" transform="translate(488.35 0) scale(0.573 1)" class="t" font-size="19.6">E</text></g>
<g transform="translate(72.8 429.5) rotate(-90)"><text x="0" y="0" transform="translate(0.12 0) scale(0.633 1)" class="t" font-size="18.3">D</text><text x="0" y="0" transform="translate(9.55 0) scale(1.100 1)" class="t" font-size="18.3">I</text><text x="0" y="0" transform="translate(16.53 0) scale(0.693 1)" class="t" font-size="18.3">S</text><text x="0" y="0" transform="translate(25.95 0) scale(0.593 1)" class="t" font-size="18.3">C</text><text x="0" y="0" transform="translate(34.03 0) scale(0.706 1)" class="t" font-size="18.3">H</text><text x="0" y="0" transform="translate(43.70 0) scale(0.660 1)" class="t" font-size="18.3">A</text><text x="0" y="0" transform="translate(52.41 0) scale(0.560 1)" class="t" font-size="18.3">R</text><text x="0" y="0" transform="translate(61.10 0) scale(0.534 1)" class="t" font-size="18.3">G</text><text x="0" y="0" transform="translate(68.48 0) scale(0.672 1)" class="t" font-size="18.3">E</text></g>
<g transform="translate(72.8 335) rotate(-90)"><text x="0" y="0" transform="translate(0.05 0) scale(0.613 1)" class="t" font-size="18.3">H</text><text x="0" y="0" transform="translate(7.86 0) scale(0.726 1)" class="t" font-size="18.3">E</text><text x="0" y="0" transform="translate(17.53 0) scale(0.586 1)" class="t" font-size="18.3">A</text><text x="0" y="0" transform="translate(25.54 0) scale(0.664 1)" class="t" font-size="18.3">D</text></g>
<text x="0" y="0" transform="translate(95.68 172.20) scale(1.036 1)" class="ti" font-size="20.2">N</text><text x="0" y="0" transform="translate(111.08 172.20) scale(0.920 1)" class="ti" font-size="20.2">D</text><text x="0" y="0" transform="translate(125.52 172.20) scale(0.893 1)" class="ti" font-size="20.2">P</text><text x="0" y="0" transform="translate(138.29 172.20) scale(1.253 1)" class="ti" font-size="20.2">-</text>
<path d="M153.60 157.70 V172.20" stroke="#222" stroke-width="1.85" fill="none"/><path d="M153.60 158.00 L148.90 161.10" stroke="#222" stroke-width="1.6" fill="none"/>
<text x="0" y="0" transform="translate(160.53 172.20) scale(1.076 1)" class="ti" font-size="20.2">5</text><text x="0" y="0" transform="translate(172.91 172.20) scale(0.958 1)" class="ti" font-size="20.2">B</text><text x="0" y="0" transform="translate(187.46 172.20) scale(0.874 1)" class="ti" font-size="20.2">A</text>
<rect x="207.0" y="156.0" width="16.8" height="16.2" class="bx"/>
<circle cx="236" cy="164.3" r="2.0" fill="#111"/>
<path d="M253.70 157.70 V172.20" stroke="#222" stroke-width="1.85" fill="none"/><path d="M253.70 158.00 L249.00 161.10" stroke="#222" stroke-width="1.6" fill="none"/>
<text x="0" y="0" transform="translate(259.01 172.20) scale(1.107 1)" class="ti" font-size="20.2">5</text><text x="0" y="0" transform="translate(271.14 172.20) scale(1.061 1)" class="ti" font-size="20.2">B</text><text x="0" y="0" transform="translate(286.19 172.20) scale(0.981 1)" class="ti" font-size="20.2">S</text>
<rect x="306.8" y="156.0" width="17.0" height="16.2" class="bx"/>
<g fill="none" stroke="#f4a2b6" stroke-width="8.6" stroke-linecap="butt">
<path d="M552.4 792.6 V771.2 M552.4 783.4 A7.75 7.75 0 0 1 567.9 783.4 V792.6"/>
<path d="M611.25 771.2 V781.4 A6.6 6.6 0 0 0 624.45 781.4 V771.2 M624.45 781 V792.6"/>
<path d="M638.9 792.8 V770.9 M638.9 782.6 A7.2 7.2 0 0 1 653.3 782.6 V792.8 M653.3 782.6 A7.25 7.25 0 0 1 667.8 782.6 V792.8"/>
</g>
<path fill="#f4a2b6" fill-rule="evenodd" d="M520 771.2 H532 A11.1 10.4 0 0 1 532 792 H528.5 V799 H520 Z M528.5 778.6 H531.6 A3.7 3.95 0 0 1 531.6 786.5 H528.5 Z"/>
<ellipse cx="589.1" cy="781.9" rx="11.8" ry="11.0" fill="#f4a2b6"/>
<path fill="#fff" d="M585.9 779.9 A2.9 3.0 0 0 1 591.7 779.9 Z"/>
<path fill="#fff" d="M586.8 783.5 H602.5 V793 L599.2 790.6 L594.6 785.2 C593 786.4 591.7 786.8 590.6 786.8 C588.6 786.8 587.3 785.6 586.8 783.5 Z"/>
<path fill="#f4a2b6" d="M679.4 777.3 C679.8 773.3 683.6 771.1 688.8 771.1 C694.6 771.1 698.6 773.8 698.6 779 V792.6 H691.4 V777.9 C690.8 777.5 689.8 777.3 688.5 777.3 Z"/>
<ellipse cx="685.8" cy="786.8" rx="7.8" ry="5.8" fill="#f4a2b6"/>
<ellipse cx="688.6" cy="785.9" rx="2.7" ry="2.15" fill="#fff"/>
<path fill="#f4a2b6" d="M703.8 771.1 H723 V776.7 H716.9 V792.6 H709.8 V776.7 H703.8 Z M728.1 771.1 H736.7 V792.6 H728.1 Z"/>
<ellipse cx="780.5" cy="781.9" rx="10.5" ry="10.9" fill="#9a9a9a"/>
<ellipse cx="779.1" cy="782.3" rx="3.1" ry="4.25" fill="#fff"/>
<circle cx="760.9" cy="782.2" r="11.2" fill="#fff"/>
<circle cx="752.9" cy="781.9" r="10.9" fill="#9a9a9a"/>
<ellipse cx="753.4" cy="782.6" rx="3.3" ry="4.4" fill="#fff"/>
<rect x="756" y="779.8" width="6" height="4.5" fill="#fff"/>
<path d="M761 779.8 L765 774.6 V789.4 L761 784.3 Z" fill="#fff"/>
<rect x="765.3" y="780.1" width="8" height="3.7" fill="#9a9a9a"/>
<circle cx="796.3" cy="774.4" r="3.0" fill="none" stroke="#9a9a9a" stroke-width="0.8"/>
<text x="796.3" y="776.3" text-anchor="middle" font-size="5" font-family="Liberation Sans" font-weight="bold" fill="#9a9a9a">R</text>
</svg>
</body></html>
